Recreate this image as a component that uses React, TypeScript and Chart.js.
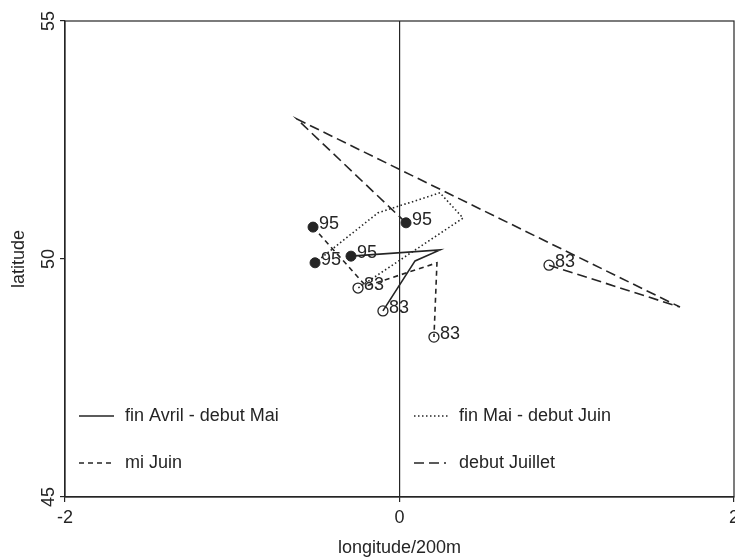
import React, { useEffect, useRef } from 'react';
import { Chart, registerables } from 'chart.js';

Chart.register(...registerables);

// ---- data (longitude/200m, latitude) ----
const legendLabels = ['fin Avril - debut Mai', 'fin Mai - debut Juin', 'mi Juin', 'debut Juillet'];

const finAvrilX = [-0.29, 0.242, 0.093, -0.099];
const finAvrilY = [50.06, 50.19, 49.96, 48.91];

const finMaiX = [-0.505, -0.129, 0.242, 0.38, -0.248];
const finMaiY = [49.92, 50.97, 51.39, 50.86, 49.39];

const miJuinX = [-0.517, -0.2, 0.224, 0.206];
const miJuinY = [50.67, 49.43, 49.92, 48.36];

const juilletX = [0.039, -0.613, 1.677, 0.894];
const juilletY = [50.76, 52.94, 48.99, 49.87];

const pts95X = [-0.517, -0.505, -0.29, 0.039];
const pts95Y = [50.67, 49.92, 50.06, 50.76];
const pts95Labels = ['95', '95', '95', '95'];

const pts83X = [-0.248, -0.099, 0.206, 0.894];
const pts83Y = [49.39, 48.91, 48.36, 49.87];
const pts83Labels = ['83', '83', '83', '83'];

const xTicks = [-2, 0, 2];
const yTicks = [45, 50, 55];

const FONT = '"Liberation Sans", Arial, Helvetica, sans-serif';
const INK = '#252525';

const dashes = [[], [1.5, 2.5], [5, 4], [10, 5]];

const zip = (xs: number[], ys: number[]) => xs.map((x, i) => ({ x, y: ys[i] }));

const legendPlugin = {
  id: 'innerLegend',
  afterDraw(chart: any) {
    const { ctx, chartArea } = chart;
    const { left, top, right, bottom } = chartArea;
    ctx.save();
    // box
    ctx.strokeStyle = INK;
    ctx.lineWidth = 1.2;
    ctx.setLineDash([]);
    ctx.strokeRect(left, top, right - left, bottom - top);

    ctx.font = '18px ' + FONT;
    ctx.fillStyle = INK;

    // x tick labels (centred on their ticks)
    const xs = chart.scales.x;
    ctx.textAlign = 'center';
    ctx.textBaseline = 'top';
    xTicks.forEach((v) => {
      ctx.fillText(String(v), xs.getPixelForValue(v), bottom + 12);
    });

    // legend
    const positions = [
      { sx: left + 14, ex: left + 49, tx: left + 60, y: bottom - 81 },
      { sx: left + 349, ex: left + 383, tx: left + 394, y: bottom - 81 },
      { sx: left + 14, ex: left + 49, tx: left + 60, y: bottom - 34 },
      { sx: left + 349, ex: left + 381, tx: left + 394, y: bottom - 34 },
    ];
    ctx.textBaseline = 'middle';
    ctx.textAlign = 'left';
    legendLabels.forEach((lab, i) => {
      const p = positions[i];
      ctx.beginPath();
      ctx.setLineDash(dashes[i]);
      ctx.lineWidth = 1.5;
      ctx.strokeStyle = INK;
      ctx.moveTo(p.sx, p.y);
      ctx.lineTo(p.ex, p.y);
      ctx.stroke();
      ctx.setLineDash([]);
      ctx.fillText(lab, p.tx, p.y);
    });

    // point labels
    const drawLabels = (dsIndex: number, labels: string[]) => {
      const meta = chart.getDatasetMeta(dsIndex);
      meta.data.forEach((el: any, i: number) => {
        ctx.fillText(labels[i], el.x + 6, el.y - 3);
      });
    };
    drawLabels(4, pts95Labels);
    drawLabels(5, pts83Labels);
    ctx.restore();
  },
};

export default function App() {
  const ref = useRef<HTMLCanvasElement | null>(null);

  useEffect(() => {
    document.body.style.margin = '0';
    const canvas = ref.current;
    if (!canvas) return;
    const lineDs = (label: string, xs: number[], ys: number[], dash: number[]) => ({
      label,
      data: zip(xs, ys),
      showLine: true,
      borderColor: INK,
      borderWidth: 1.6,
      borderDash: dash,
      pointRadius: 0,
      pointHoverRadius: 0,
      fill: false,
      tension: 0,
    });
    const chart = new Chart(canvas, {
      type: 'scatter',
      data: {
        datasets: [
          lineDs(legendLabels[0], finAvrilX, finAvrilY, dashes[0]),
          lineDs(legendLabels[1], finMaiX, finMaiY, dashes[1]),
          lineDs(legendLabels[2], miJuinX, miJuinY, dashes[2]),
          lineDs(legendLabels[3], juilletX, juilletY, dashes[3]),
          {
            label: '95',
            data: zip(pts95X, pts95Y),
            showLine: false,
            pointRadius: 5,
            pointBackgroundColor: INK,
            pointBorderColor: INK,
            pointBorderWidth: 1,
          },
          {
            label: '83',
            data: zip(pts83X, pts83Y),
            showLine: false,
            pointRadius: 5,
            pointBackgroundColor: 'rgba(255,255,255,0)',
            pointBorderColor: INK,
            pointBorderWidth: 1.3,
          },
        ],
      } as any,
      plugins: [legendPlugin],
      options: {
        animation: false,
        responsive: false,
        devicePixelRatio: 1,
        events: [],
        layout: { autoPadding: false, padding: { top: 21, right: 1, left: 0, bottom: 0 } },
        plugins: { legend: { display: false }, tooltip: { enabled: false } },
        scales: {
          x: {
            type: 'linear',
            min: -2,
            max: 2,
            afterBuildTicks: (s: any) => {
              s.ticks = xTicks.map((v) => ({ value: v }));
            },
            afterFit: (s: any) => {
              s.height = 60;
              s.paddingLeft = 0;
              s.paddingRight = 0;
            },
            grid: {
              color: (c: any) => (c.tick && c.tick.value === 0 ? INK : 'rgba(0,0,0,0)'),
              tickColor: INK,
              tickLength: 5,
              lineWidth: 1.2,
              drawTicks: true,
            },
            border: { display: true, color: INK, width: 1.2 },
            ticks: { display: false },
            title: {
              display: true,
              text: 'longitude/200m',
              color: INK,
              font: { family: FONT, size: 18, lineHeight: 1 },
              padding: { top: 0, bottom: 0 },
            },
          },
          y: {
            type: 'linear',
            min: 45,
            max: 55,
            afterBuildTicks: (s: any) => {
              s.ticks = yTicks.map((v) => ({ value: v }));
            },
            afterFit: (s: any) => {
              s.width = 65;
              s.paddingTop = 0;
              s.paddingBottom = 0;
            },
            grid: {
              color: 'rgba(0,0,0,0)',
              tickColor: INK,
              tickLength: 5,
              lineWidth: 1.2,
            },
            border: { display: true, color: INK, width: 1.2 },
            ticks: {
              color: INK,
              font: { family: FONT, size: 18 },
              padding: 1,
              minRotation: 90,
              maxRotation: 90,
              crossAlign: 'center',
            },
            title: {
              display: true,
              text: 'latitude',
              color: INK,
              font: { family: FONT, size: 18 },
              padding: { top: 8, bottom: 0 },
            },
          },
        },
      } as any,
    });
    return () => chart.destroy();
  }, []);

  return <canvas ref={ref} width={735} height={557} style={{ display: 'block' }} />;
}
